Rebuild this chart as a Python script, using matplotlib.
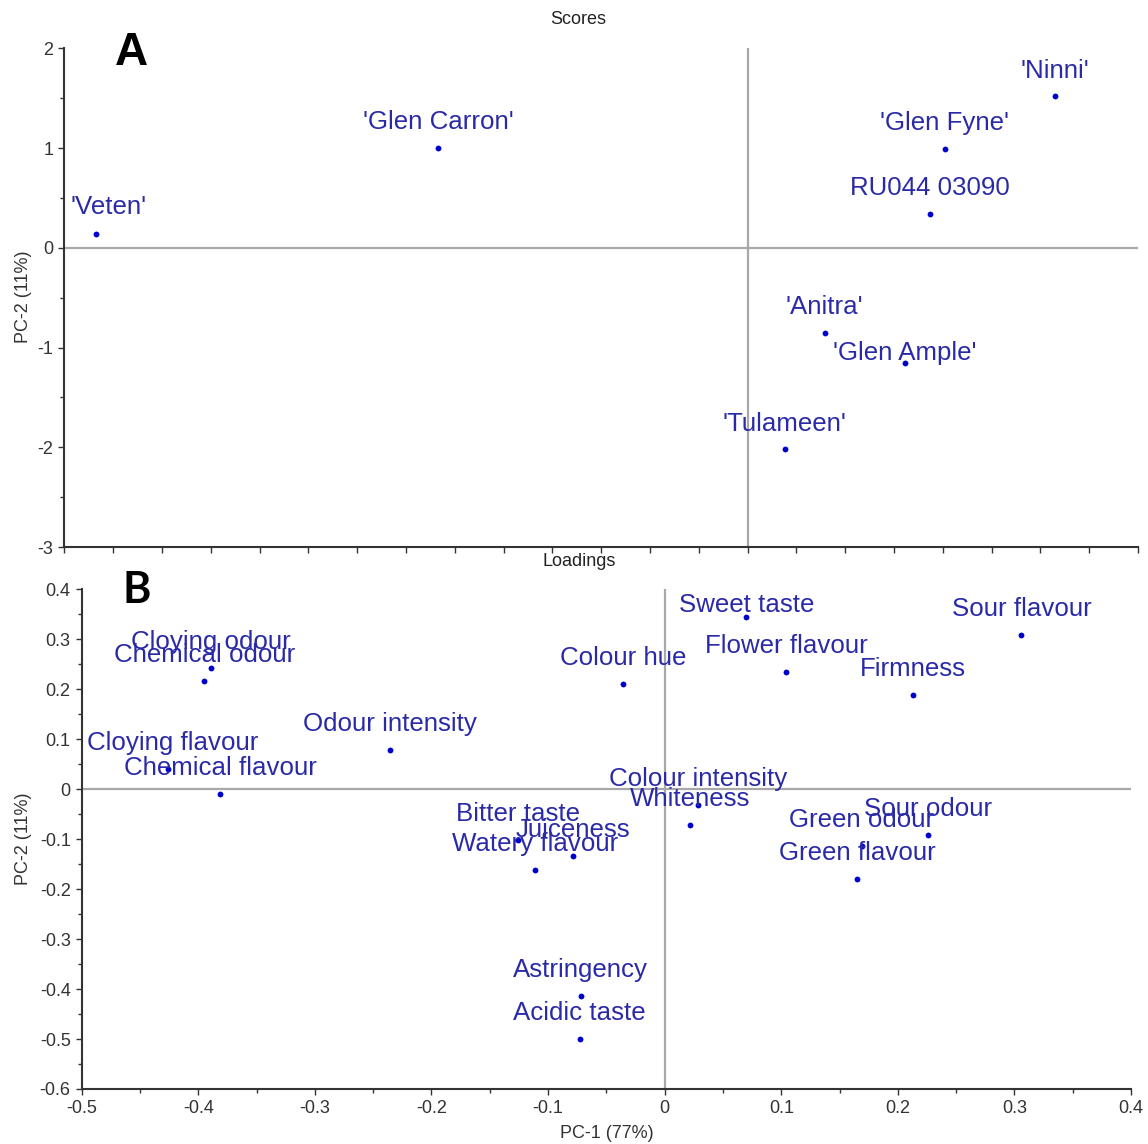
import matplotlib
matplotlib.use('Agg')
import matplotlib.pyplot as plt
from matplotlib.ticker import MultipleLocator

# scores (PCA t-scores)
cultivars = ["'Veten'", "'Glen Carron'", "'Ninni'", "'Glen Fyne'", "RU044 03090",
             "'Anitra'", "'Glen Ample'", "'Tulameen'"]
score_pc1 = [-6.68, -3.17, 3.15, 2.02, 1.87, 0.79, 1.61, 0.38]
score_pc2 = [0.14, 1.00, 1.52, 0.995, 0.34, -0.85, -1.15, -2.02]

# loadings
attributes = ['Sweet taste', 'Sour flavour', 'Cloying odour', 'Chemical odour',
              'Colour hue', 'Flower flavour', 'Firmness', 'Odour intensity',
              'Cloying flavour', 'Chemical flavour', 'Colour intensity', 'Whiteness',
              'Sour odour', 'Green odour', 'Green flavour', 'Bitter taste',
              'Juiceness', 'Watery flavour', 'Astringency', 'Acidic taste']
load_pc1 = [0.070, 0.306, -0.389, -0.395, -0.036, 0.104, 0.213, -0.236,
            -0.426, -0.381, 0.029, 0.022, 0.226, 0.169, 0.165, -0.126,
            -0.079, -0.111, -0.072, -0.073]
load_pc2 = [0.344, 0.308, 0.243, 0.217, 0.210, 0.234, 0.188, 0.078,
            0.041, -0.010, -0.032, -0.072, -0.091, -0.114, -0.180, -0.102,
            -0.134, -0.162, -0.414, -0.499]

# label offsets in points (default sits just above the dot)
default_off = (0, 13.5)
moved = {"'Veten'": (9.5, 14), "'Glen Ample'": (0, 1.5),
         'Sweet taste': (0, 3.5), 'Cloying flavour': (3.6, 13.5)}

label_col = '#2a2aa8'
dot_col = '#0000cc'
axis_col = '#333333'

plt.rcParams['font.family'] = ['Liberation Sans', 'DejaVu Sans']
plt.rcParams['axes.unicode_minus'] = False

fig = plt.figure(figsize=(11.48, 11.44), dpi=100)
ax1 = fig.add_axes([0.056, 0.5218, 0.9353, 0.4359])
ax2 = fig.add_axes([0.0712, 0.0481, 0.914, 0.4368])


def style(ax):
    for s in ['top', 'right']:
        ax.spines[s].set_visible(False)
    for s in ['left', 'bottom']:
        ax.spines[s].set_linewidth(1.5)
        ax.spines[s].set_color(axis_col)
    ax.axhline(0, color='#a8a8a8', lw=1.6, zorder=1)
    ax.axvline(0, color='#a8a8a8', lw=1.6, zorder=1)
    ax.tick_params(which='both', direction='out', color=axis_col, width=1,
                   labelsize=13, labelcolor=axis_col)
    ax.tick_params(which='major', length=4, pad=4)
    ax.tick_params(which='minor', length=3)


def label_points(ax, names, xs, ys):
    ax.plot(xs, ys, 'o', ms=4.2, color=dot_col, mec='none', zorder=3)
    for n, x, y in zip(names, xs, ys):
        ax.annotate(n, (x, y), xytext=moved.get(n, default_off),
                    textcoords='offset points', ha='center', va='baseline',
                    fontsize=18.6, color=label_col, zorder=4)


# A: scores
style(ax1)
ax1.set_xlim(-7, 4)
ax1.set_ylim(-3, 2)
ax1.xaxis.set_major_locator(MultipleLocator(0.5))
ax1.yaxis.set_major_locator(MultipleLocator(1))
ax1.yaxis.set_minor_locator(MultipleLocator(0.5))
ax1.tick_params(axis='x', labelbottom=False)
label_points(ax1, cultivars, score_pc1, score_pc2)

# B: loadings
style(ax2)
ax2.set_xlim(-0.5, 0.4)
ax2.set_ylim(-0.6, 0.4)
ax2.xaxis.set_major_locator(MultipleLocator(0.1))
ax2.xaxis.set_minor_locator(MultipleLocator(0.05))
ax2.yaxis.set_major_locator(MultipleLocator(0.1))
ax2.yaxis.set_minor_locator(MultipleLocator(0.05))
ax2.xaxis.set_major_formatter(lambda v, p: '0' if abs(v) < 1e-9 else f'{v:.1f}')
ax2.yaxis.set_major_formatter(lambda v, p: '0' if abs(v) < 1e-9 else f'{v:.1f}')
label_points(ax2, attributes, load_pc1, load_pc2)
ax2.set_xlabel('PC-1 (77%)', fontsize=13, color=axis_col, labelpad=6)

# titles, axis labels, panel letters
fig.text(578 / 1148, 1 - 20 / 1144, 'Scores', ha='center', va='center',
         fontsize=13, color='#222222')
fig.text(579 / 1148, 1 - 562 / 1144, 'Loadings', ha='center', va='center',
         fontsize=13, color='#222222')
fig.text(24 / 1148, 1 - 297 / 1144, 'PC-2 (11%)', rotation=90, ha='center',
         va='center', fontsize=13, color=axis_col)
fig.text(24 / 1148, 1 - 839 / 1144, 'PC-2 (11%)', rotation=90, ha='center',
         va='center', fontsize=13, color=axis_col)
fig.text(115 / 1148, 1 - 65 / 1144, 'A', fontsize=33, fontweight='bold',
         ha='left', va='baseline')
fig.text(123 / 1148, 1 - 603 / 1144, 'B', fontsize=31, fontweight='bold',
         ha='left', va='baseline', family=['Lato', 'Open Sans', 'DejaVu Sans'])

fig.savefig('out.png', dpi=100)
